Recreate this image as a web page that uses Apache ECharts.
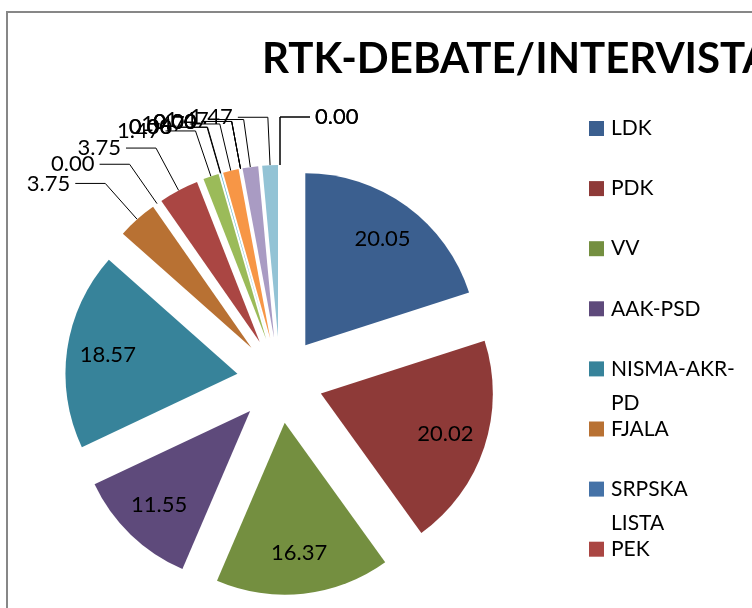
<!DOCTYPE html>
<html><head><meta charset="utf-8">
<script src="https://cdn.jsdelivr.net/npm/echarts@6/dist/echarts.min.js"></script>
<style>html,body{margin:0;padding:0;background:#fff}#c{width:752px;height:608px}</style>
</head><body><div id="c"></div>
<script>
// ---- data ----
const categories = ['LDK','PDK','VV','AAK-PSD','NISMA-AKR-PD','FJALA','SRPSKA LISTA','PEK',
  'Parti 9','Parti 10','Parti 11','Parti 12','Parti 13','Parti 14','Parti 15','Parti 16','Parti 17','Parti 18','Parti 19'];
const values = [20.05,20.02,16.37,11.55,18.57,3.75,0.00,3.75,
  1.47,0.00,0.06,1.47,0.00,0.00,0.00,1.47,1.47,0.00,0.00];
const colors = ['#3B5F8F','#8E3A38','#748F40','#5E4A7B','#37839A','#B87133','#4572A7','#AA4643',
  '#9BBB59','#8064A2','#4BACC6','#F79646','#95B3D7','#D99694','#C3D69B','#A99BC3','#93C3D5','#FAC090','#2C4D75'];
const titleText = 'RTK-DEBATE/INTERVISTA';
const legendShown = 8; // the legend box only has room for the first entries

// ---- layout/styles ----
const FONT = 'Lato';
const CENTER = [280, 380];
const R = 172;
const OFFSET = 43;
const LEG_X = 589, LEG_Y0 = 128.5, LEG_STEP = 60.1, LEG_LH = 34, LEG_FS = 21, LEG_W = 135;

const ctx = document.createElement('canvas').getContext('2d');
ctx.font = LEG_FS + 'px ' + FONT;
function wrapName(name) {
  if (ctx.measureText(name).width <= LEG_W) return [name];
  let best = -1;
  for (let i = 0; i < name.length; i++) {
    const ch = name[i];
    if (ch === '-' || ch === ' ') {
      const head = ch === '-' ? name.slice(0, i + 1) : name.slice(0, i);
      if (ctx.measureText(head).width <= LEG_W) best = i;
    }
  }
  if (best < 0) return [name];
  const ch = name[best];
  return [ch === '-' ? name.slice(0, best + 1) : name.slice(0, best), name.slice(best + 1)];
}

const mainData = values.map((v, i) => {
  const inside = v >= 10;
  return {
    name: categories[i], value: v, selected: true,
    itemStyle: { color: colors[i] },
    label: { show: !inside },
    labelLine: { show: !inside }
  };
});
const ringData = values.map((v, i) => ({
  name: categories[i], value: v, selected: true,
  label: { show: v >= 10 }
}));

const legends = categories.slice(0, legendShown).map((name, i) => {
  const lines = wrapName(name);
  const txt = lines.length > 1 ? '\n' + lines.join('\n') : lines[0];
  const nLines = lines.length > 1 ? 3 : 1;
  return {
    orient: 'vertical', left: LEG_X, top: LEG_Y0 + LEG_STEP * i - nLines * LEG_LH / 2,
    data: [name], icon: 'rect', itemWidth: 15, itemHeight: 15, itemGap: 0,
    selectedMode: false, padding: 0,
    formatter: () => txt,
    textStyle: { fontFamily: FONT, fontSize: LEG_FS, color: '#000', lineHeight: LEG_LH, padding: [0,0,0,2] }
  };
});

const chart = echarts.init(document.getElementById('c'), null, { renderer: 'canvas' });
chart.setOption({
  animation: false,
  backgroundColor: '#fff',
  title: {
    text: titleText, left: 262, top: 38, padding: 0,
    textStyle: { fontFamily: FONT, fontSize: 42, fontWeight: 'bold', color: '#000' }
  },
  legend: legends,
  graphic: [{
    type: 'rect', shape: { x: 7, y: 12, width: 900, height: 800 },
    style: { fill: 'none', stroke: '#878787', lineWidth: 2 }, silent: true, z: -10
  }],
  series: [{
    type: 'pie', center: CENTER, radius: R, startAngle: 90, clockwise: true,
    selectedMode: 'multiple', selectedOffset: OFFSET,
    avoidLabelOverlap: false,
    labelLayout: { hideOverlap: false },
    select: { itemStyle: { borderWidth: 0 } },
    emphasis: { disabled: true },
    label: { position: 'outside', fontFamily: FONT, fontSize: 22, color: '#000',
      formatter: p => p.value.toFixed(2) },
    labelLine: { length: 48, length2: 30, lineStyle: { color: '#000', width: 1 } },
    data: mainData
  }, {
    type: 'pie', center: CENTER, radius: [84, R], startAngle: 90, clockwise: true,
    selectedMode: 'multiple', selectedOffset: OFFSET, silent: true,
    emphasis: { disabled: true },
    itemStyle: { color: 'rgba(0,0,0,0)' },
    select: { itemStyle: { color: 'rgba(0,0,0,0)' } },
    label: { position: 'inside', fontFamily: FONT, fontSize: 22, color: '#000',
      formatter: p => p.value.toFixed(2) },
    labelLine: { show: false },
    labelLayout: { hideOverlap: false },
    data: ringData
  }]
});
</script></body></html>
